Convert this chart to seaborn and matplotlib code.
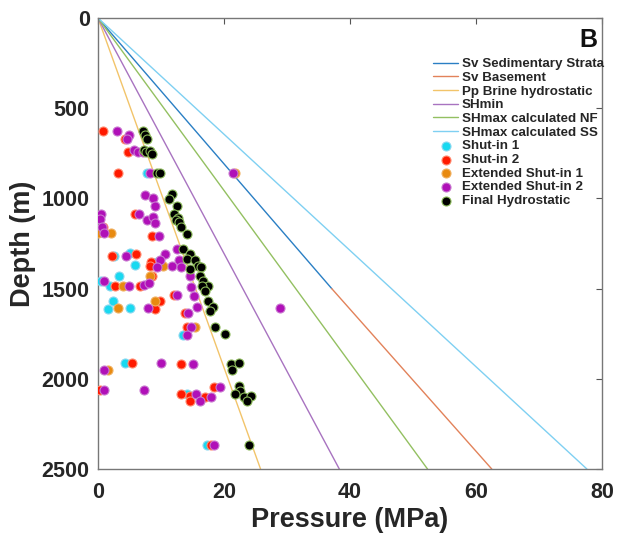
import seaborn as sns
import matplotlib.pyplot as plt
import pandas as pd

# stress / pressure gradient lines (MPa vs depth in m)
sv_sed_depth = [0, 1500]
sv_sed_p = [0, 37.1]
sv_base_depth = [1500, 2500]
sv_base_p = [37.1, 62.5]
line_depth = [0, 2500]
pp_p = [0, 25.8]
shmin_p = [0, 38.3]
shmax_nf_p = [0, 52.3]
shmax_ss_p = [0, 77.6]

# measured points
shut1_p = [7.8, 5.1, 2.6, 5.8, 9.4, 3.4, 0.5, 1.95, 2.3, 1.6, 5.0, 13.5, 4.3, 14.1, 17.3]
shut1_d = [857, 1302, 1317, 1368, 1350, 1428, 1456, 1483, 1569, 1611, 1609, 1756, 1914, 2082, 2367]

shut2_p = [0.8, 4.3, 4.8, 3.1, 5.9, 0.85, 8.6, 2.2, 6.1, 8.4, 8.3, 8.6, 2.7, 6.7, 9.8, 9.1,
           12.1, 13.8, 14.1, 5.4, 13.2, 0.25, 18.4, 13.1, 14.6, 14.6, 17.0, 17.9]
shut2_d = [627, 668, 742, 857, 1086, 1161, 1206, 1317, 1307, 1350, 1372, 1428, 1483, 1483, 1570, 1611,
           1533, 1635, 1711, 1914, 1918, 2061, 2044, 2082, 2094, 2125, 2100, 2367]

ext1_p = [21.7, 0.05, 2.0, 10.3, 8.2, 3.9, 3.1, 9.05, 15.4, 1.65]
ext1_d = [857, 1190, 1192, 1372, 1428, 1483, 1609, 1570, 1711, 1952]

ext2_p = [3.0, 4.9, 4.6, 5.7, 6.3, 7.2, 8.2, 21.5, 7.5, 8.8, 9.1, 0.4, 0.3, 6.5, 7.7, 8.8, 9.0,
          0.6, 0.9, 9.6, 4.5, 10.7, 9.9, 9.4, 11.7, 12.5, 12.9, 13.1, 14.6, 1.0, 4.9, 7.25, 8.1,
          14.7, 8.0, 12.6, 15.3, 15.7, 14.3, 14.8, 14.1, 28.9, 10.0, 15.0, 1.0, 0.9, 7.35, 15.6,
          16.2, 17.9, 19.4, 18.4]
ext2_d = [627, 649, 668, 733, 742, 742, 857, 857, 980, 998, 1044, 1085, 1113, 1089, 1122, 1104, 1136,
          1159, 1192, 1206, 1317, 1307, 1344, 1382, 1372, 1279, 1344, 1382, 1428, 1459, 1483, 1479, 1467,
          1493, 1606, 1533, 1539, 1604, 1635, 1711, 1756, 1606, 1914, 1918, 1952, 2061, 2064, 2082,
          2124, 2100, 2044, 2367]

final_p = [7.1, 7.5, 7.8, 7.25, 7.6, 8.3, 8.6, 9.4, 9.9, 11.7, 11.2, 12.5, 12.0, 12.7, 12.3, 12.9,
           13.1, 14.1, 13.5, 14.6, 14.1, 15.4, 15.9, 16.3, 14.6, 16.2, 16.7, 17.5, 16.5, 17.0, 17.5,
           18.3, 17.8, 18.6, 20.2, 21.1, 22.4, 21.2, 22.3, 22.5, 21.8, 23.2, 24.3, 23.6, 24.0]
final_d = [627, 649, 668, 729, 742, 738, 751, 857, 857, 978, 1002, 1044, 1089, 1107, 1122, 1132,
           1159, 1196, 1279, 1307, 1335, 1344, 1372, 1382, 1390, 1428, 1456, 1483, 1483, 1511, 1566,
           1603, 1622, 1715, 1752, 1918, 1911, 1952, 2042, 2067, 2085, 2100, 2093, 2125, 2367]

sns.set_style("white")
plt.rcParams['font.family'] = ['Liberation Sans', 'DejaVu Sans']

fig = plt.figure(figsize=(6.34, 5.33), dpi=100)
ax = fig.add_axes([0.1546, 0.12, 0.795, 0.8462])

lines = [
    (sv_sed_p, sv_sed_depth, '#2a7fc4', 'Sv Sedimentary Strata'),
    (sv_base_p, sv_base_depth, '#e2825a', 'Sv Basement'),
    (pp_p, line_depth, '#f2c46a', 'Pp Brine hydrostatic'),
    (shmin_p, line_depth, '#a873c0', 'SHmin'),
    (shmax_nf_p, line_depth, '#93c061', 'SHmax calculated NF'),
    (shmax_ss_p, line_depth, '#7fd0f2', 'SHmax calculated SS'),
]
for p, d, c, lab in lines:
    sns.lineplot(x=p, y=d, ax=ax, color=c, lw=1, label=lab, sort=False, estimator=None)

pts = [
    (shut1_p, shut1_d, '#19d9f0', '#8ad8f0', 'Shut-in 1'),
    (shut2_p, shut2_d, '#ff1a00', '#ff8a70', 'Shut-in 2'),
    (ext1_p, ext1_d, '#e88a10', '#f0b060', 'Extended Shut-in 1'),
    (ext2_p, ext2_d, '#b010b8', '#c878d0', 'Extended Shut-in 2'),
    (final_p, final_d, '#000000', '#8ab858', 'Final Hydrostatic'),
]
for p, d, c, ec, lab in pts:
    df = pd.DataFrame({'p': p, 'd': d})
    sns.scatterplot(data=df, x='p', y='d', ax=ax, color=c, edgecolor=ec, linewidth=0.8,
                    s=42, label=lab, zorder=3)

ax.set_xlim(0, 80)
ax.set_ylim(2500, 0)
ax.set_xticks([0, 20, 40, 60, 80])
ax.set_yticks([0, 500, 1000, 1500, 2000, 2500])
ax.tick_params(direction='in', length=4, width=0.8, color='#555555', top=True, right=True,
               labelsize=15.5, labelcolor='#262626')
ax.tick_params(axis='x', pad=9)
ax.tick_params(axis='y', pad=6)
for lbl in ax.get_xticklabels() + ax.get_yticklabels():
    lbl.set_fontweight('bold')
for s in ax.spines.values():
    s.set_color('#777777')
    s.set_linewidth(1)
ax.set_xlabel('Pressure (MPa)', fontsize=19.5, fontweight='bold', color='#262626', labelpad=3)
ax.set_ylabel('Depth (m)', fontsize=19.5, fontweight='bold', color='#262626', labelpad=4)

ax.text(0.99, 0.978, 'B', transform=ax.transAxes, ha='right', va='top',
        fontsize=18, fontweight='bold', color='#111111')

leg = ax.legend(loc='upper right', bbox_to_anchor=(1.014, 0.923), frameon=False,
                prop={'weight': 'bold', 'size': 9.6}, handlelength=1.9, labelspacing=0.1,
                handletextpad=0.25, borderaxespad=0.2, borderpad=0.2)
for t in leg.get_texts():
    t.set_color('#262626')

fig.savefig('out.png', dpi=100)
